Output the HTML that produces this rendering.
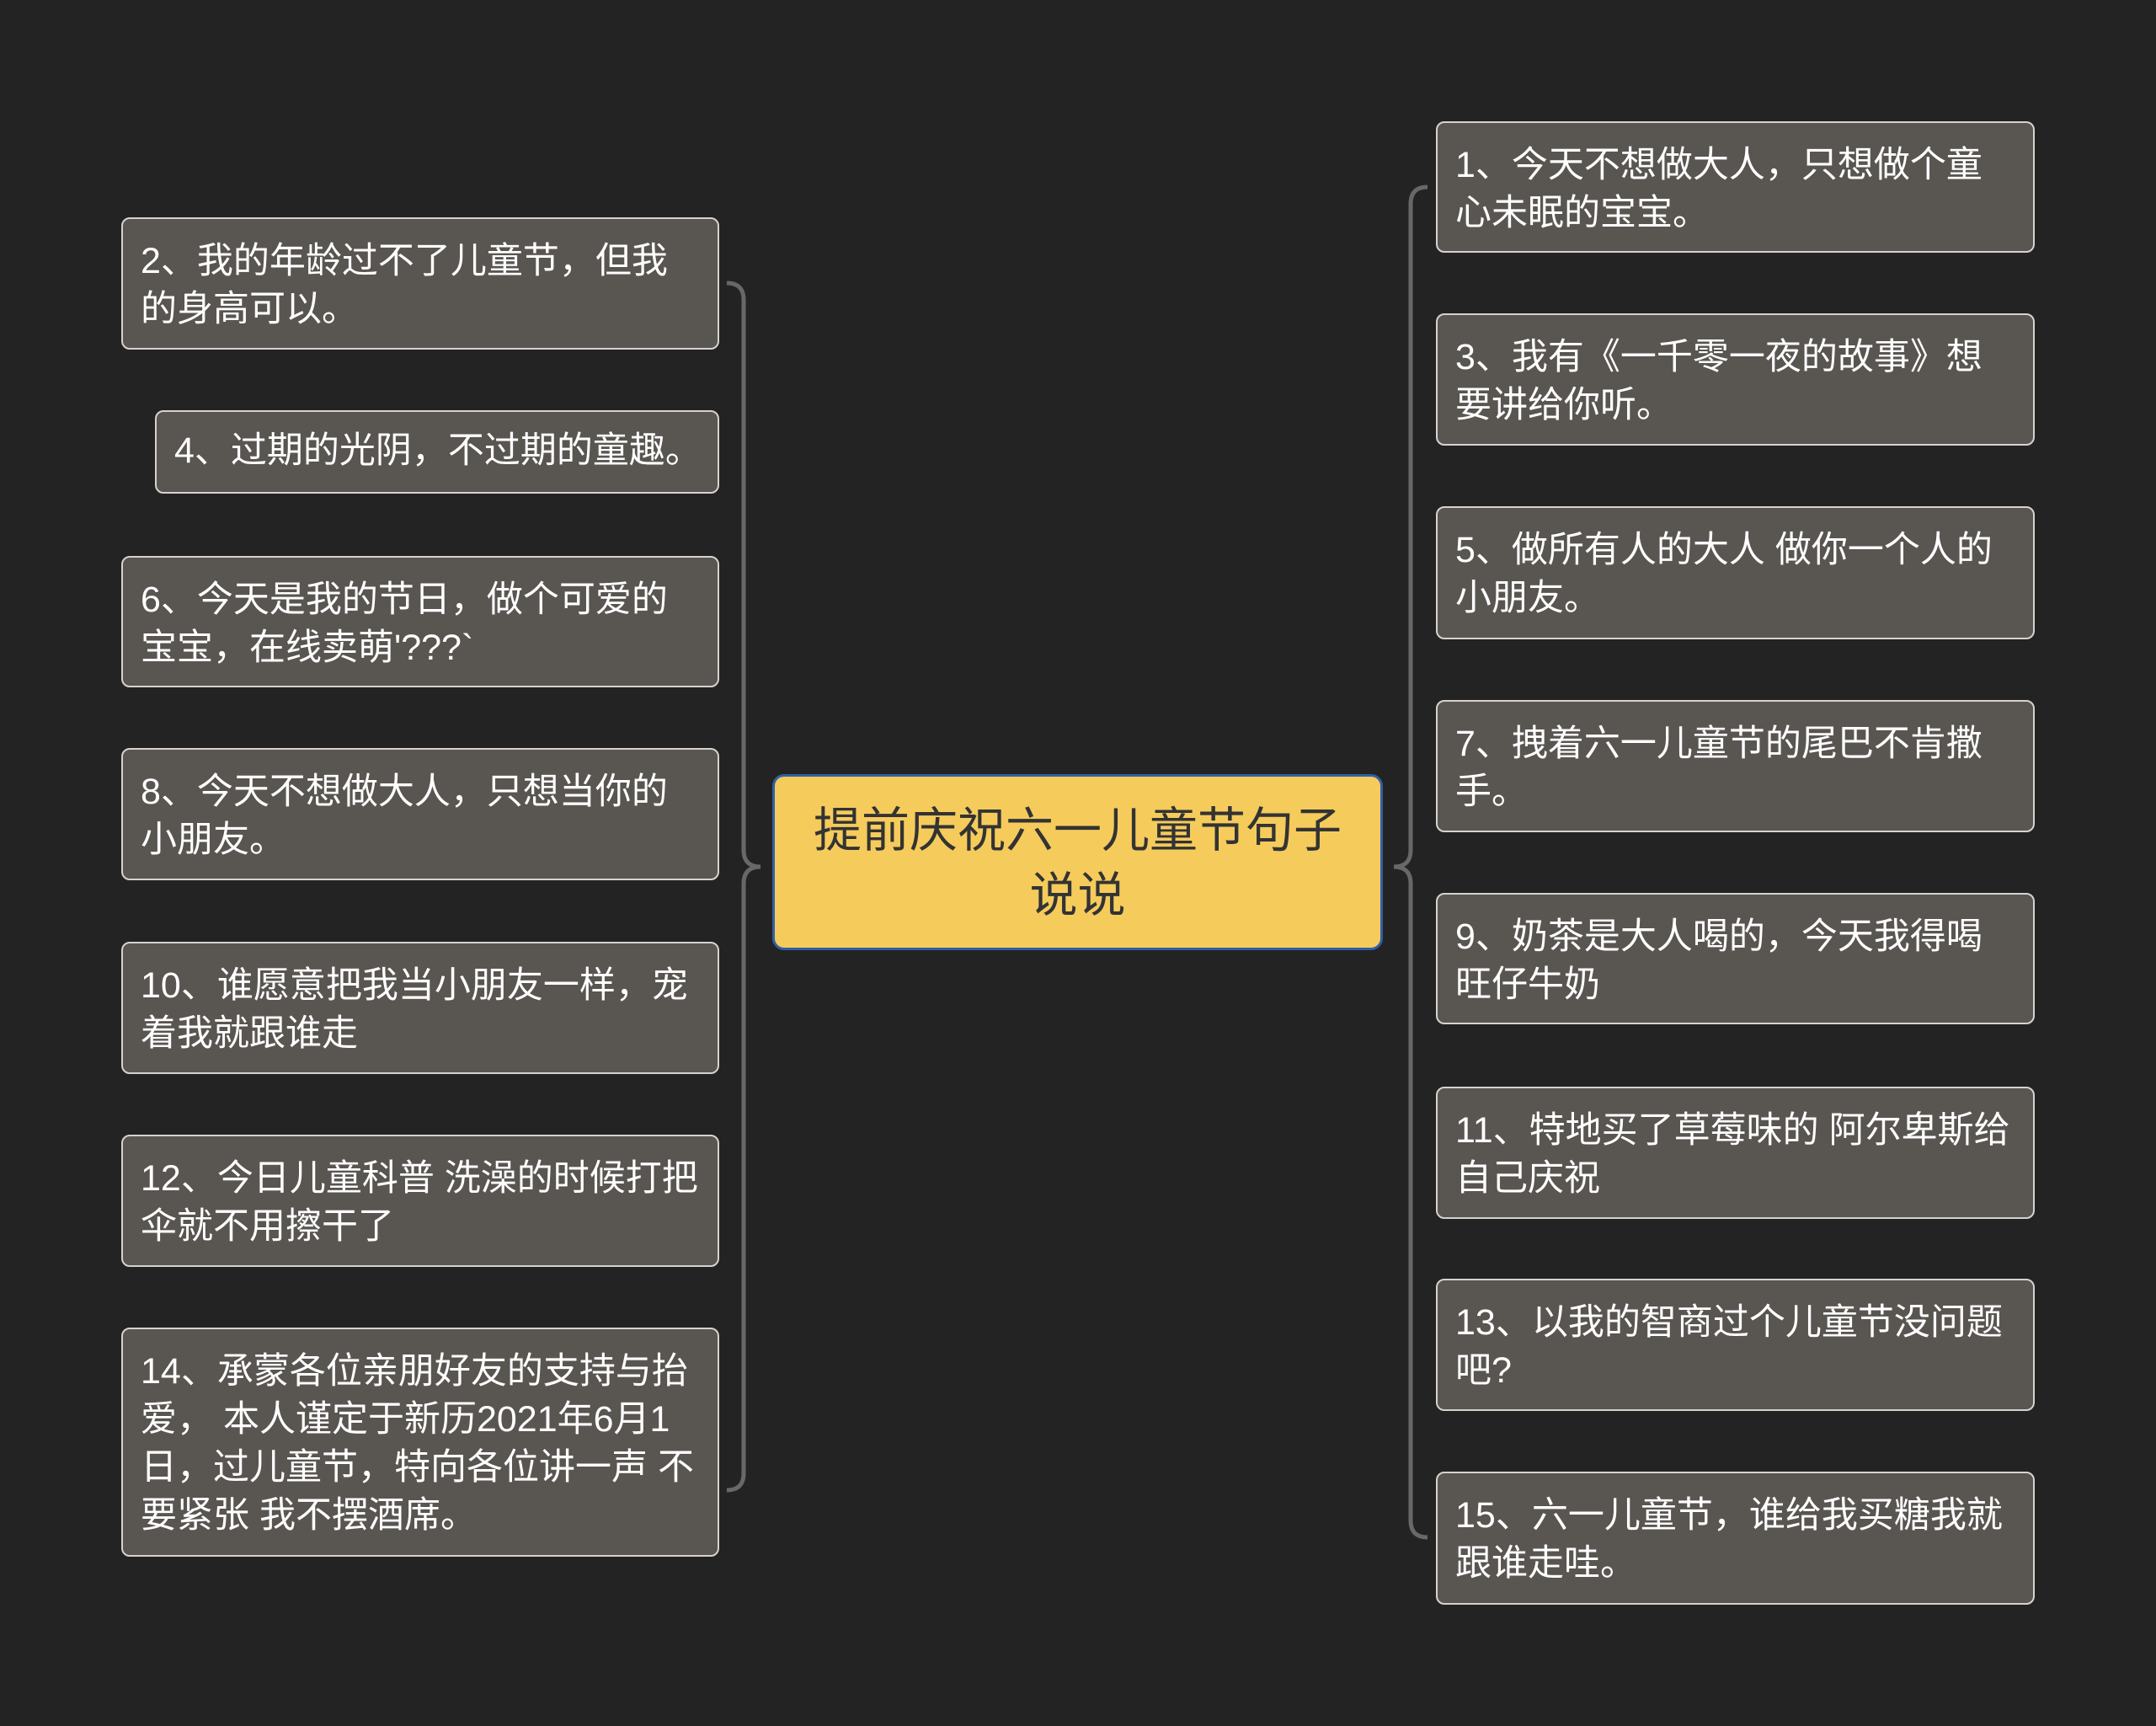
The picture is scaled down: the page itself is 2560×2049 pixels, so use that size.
<!DOCTYPE html>
<html><head><meta charset="utf-8"><style>
body{margin:0;width:2560px;height:2049px;background:#232323;position:relative;overflow:hidden;font-family:"Liberation Sans","Noto Sans CJK SC",sans-serif;}
.n{position:absolute;box-sizing:border-box;background:#595551;border:2px solid #d6d2d0;border-radius:10px;color:#fff;font-size:43px;line-height:57px;padding:22px 20px 0 21px;white-space:nowrap;}
.c{position:absolute;left:917px;top:919px;width:725px;height:209px;box-sizing:border-box;background:#f5cb5c;border:3px solid #2f5fa5;border-radius:14px;color:#333;font-size:57px;line-height:77px;text-align:center;padding-top:26px;}
</style></head><body>
<svg width="2560" height="2049" style="position:absolute;left:0;top:0">
<path d="M863 336 Q883 336 883 356 L883 1009 Q883 1029 903 1029 Q883 1029 883 1049 L883 1749 Q883 1769 863 1769" fill="none" stroke="#6a6866" stroke-width="5"/>
<path d="M1695 222 Q1675 222 1675 242 L1675 1009 Q1675 1029 1655 1029 Q1675 1029 1675 1049 L1675 1805 Q1675 1825 1695 1825" fill="none" stroke="#6a6866" stroke-width="5"/>
</svg>
<div class="c">提前庆祝六一儿童节句子<br>说说</div>
<div class="n" style="left:144px;top:258px;width:710px;height:157px">2、我的年龄过不了儿童节，但我<br>的身高可以。</div>
<div class="n" style="left:184px;top:487px;width:670px;height:99px;padding-top:18px">4、过期的光阴，不过期的童趣。</div>
<div class="n" style="left:144px;top:660px;width:710px;height:156px">6、今天是我的节日，做个可爱的<br>宝宝，在线卖萌'???`</div>
<div class="n" style="left:144px;top:888px;width:710px;height:157px">8、今天不想做大人，只想当你的<br>小朋友。</div>
<div class="n" style="left:144px;top:1118px;width:710px;height:157px">10、谁愿意把我当小朋友一样，宠<br>着我就跟谁走</div>
<div class="n" style="left:144px;top:1347px;width:710px;height:157px">12、今日儿童科普 洗澡的时候打把<br>伞就不用擦干了</div>
<div class="n" style="left:144px;top:1576px;width:710px;height:272px">14、承蒙各位亲朋好友的支持与抬<br>爱， 本人谨定于新历2021年6月1<br>日，过儿童节，特向各位讲一声 不<br>要紧张 我不摆酒席。</div>
<div class="n" style="left:1705px;top:144px;width:711px;height:156px">1、今天不想做大人，只想做个童<br>心未眠的宝宝。</div>
<div class="n" style="left:1705px;top:372px;width:711px;height:157px">3、我有《一千零一夜的故事》想<br>要讲给你听。</div>
<div class="n" style="left:1705px;top:601px;width:711px;height:158px">5、做所有人的大人 做你一个人的<br>小朋友。</div>
<div class="n" style="left:1705px;top:831px;width:711px;height:157px">7、拽着六一儿童节的尾巴不肯撒<br>手。</div>
<div class="n" style="left:1705px;top:1060px;width:711px;height:156px">9、奶茶是大人喝的，今天我得喝<br>旺仔牛奶</div>
<div class="n" style="left:1705px;top:1290px;width:711px;height:157px">11、特地买了草莓味的 阿尔卑斯给<br>自己庆祝</div>
<div class="n" style="left:1705px;top:1518px;width:711px;height:157px">13、以我的智商过个儿童节没问题<br>吧?</div>
<div class="n" style="left:1705px;top:1747px;width:711px;height:158px">15、六一儿童节，谁给我买糖我就<br>跟谁走哇。</div>
</body></html>
